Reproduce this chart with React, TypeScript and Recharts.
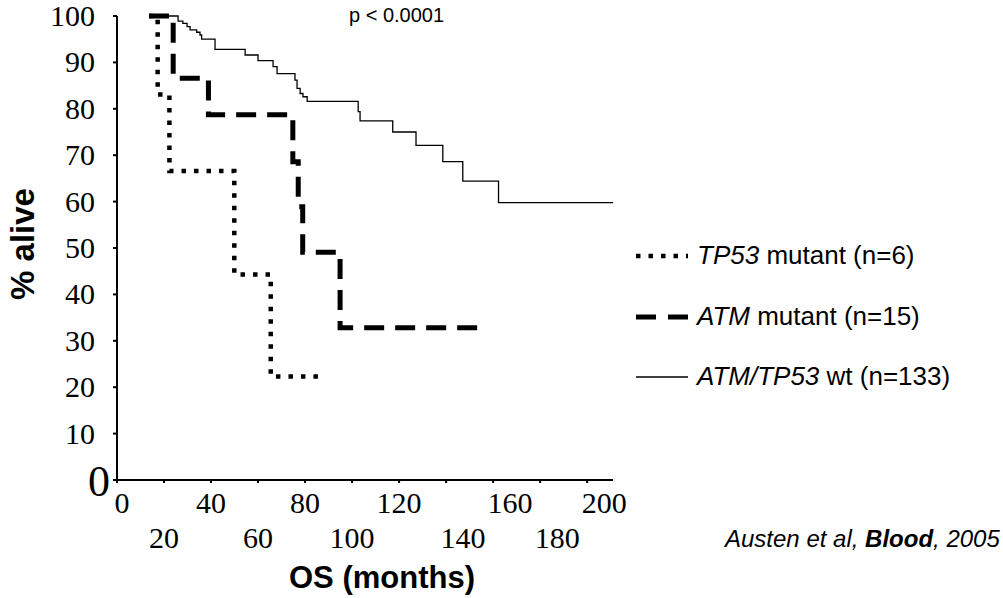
import { LineChart, Line, XAxis, YAxis } from "recharts";

// Kaplan-Meier steps (time in months, % alive)
const tp53Times = [13.6, 17.3, 22.3, 49.9, 65.4, 87.7];
const tp53Surv = [100, 83.1, 66.6, 44.3, 22.3, 22.3];

const atmTimes = [13.6, 23.9, 38.9, 74.8, 77.1, 79.0, 94.9, 155.3];
const atmSurv = [100, 86.6, 78.7, 68.6, 58.9, 49.1, 32.8, 32.8];

const wtTimes = [
  13.6, 26.0, 28.0, 29.8, 31.1, 33.9, 35.3, 36.0, 41.7, 54.5, 60.0, 66.4, 68.1,
  75.7, 76.6, 77.9, 79.1, 80.9, 102.6, 103.4, 117.3, 127.2, 138.6, 147.1, 162.3,
  211,
];
const wtSurv = [
  100, 98.9, 98.4, 97.7, 97.0, 96.5, 95.9, 95.0, 92.8, 91.6, 90.4, 89.1, 87.6,
  86.2, 84.4, 83.3, 82.6, 81.6, 79.4, 77.4, 75.0, 72.1, 68.6, 64.4, 59.8, 59.8,
];

const xTicks = [0, 20, 40, 60, 80, 100, 120, 140, 160, 180, 200];
const yTicks = [0, 10, 20, 30, 40, 50, 60, 70, 80, 90, 100];

const toRows = (times: number[], surv: number[]) =>
  times.map((t, i) => ({ t, s: surv[i] }));

const tp53Data = toRows(tp53Times, tp53Surv);
const atmData = toRows(atmTimes, atmSurv);
const wtData = toRows(wtTimes, wtSurv);

const SERIF = "'Liberation Serif', 'Times New Roman', serif";
const SANS = "'Liberation Sans', Arial, sans-serif";

// the pasted-in labels of the original drift right of their ticks past 120
const XTick = (props: any) => {
  const { x, y, payload, index } = props;
  const lower = index % 2 === 1;
  const nudge = payload.value >= 140 ? 17 : payload.value === 0 ? 5 : 0;
  return (
    <text
      x={x + nudge}
      y={y + (lower ? 63 : 28)}
      textAnchor="middle"
      fontFamily={SERIF}
      fontSize={30}
      fill="#000"
    >
      {payload.value}
    </text>
  );
};

const YTick = (props: any) => {
  const { x, y, payload } = props;
  if (payload.value === 0) {
    return (
      <text x={x + 15} y={y + 16} textAnchor="end" fontFamily={SERIF} fontSize={44} fill="#000">
        0
      </text>
    );
  }
  return (
    <text x={x} y={y} dy={10} textAnchor="end" fontFamily={SERIF} fontSize={30} fill="#000">
      {payload.value}
    </text>
  );
};

const legendText = { fontFamily: SANS, fontSize: 26, color: "#000", whiteSpace: "nowrap" as const };

function LegendRow({ top, dash, width, label, gene }: any) {
  return (
    <div style={{ position: "absolute", left: 634, top, display: "flex", alignItems: "center" }}>
      <svg width={56} height={10} style={{ marginRight: 7 }}>
        <line x1={2} y1={5} x2={54} y2={5} stroke="#000" strokeWidth={width} strokeDasharray={dash} />
      </svg>
      <span style={legendText}>
        <i>{gene}</i> {label}
      </span>
    </div>
  );
}

export default function App() {
  return (
    <div style={{ position: "absolute", left: 0, top: 0, width: 1003, height: 598, background: "#fff" }}>
      <LineChart width={1003} height={598} margin={{ top: 16, right: 390, bottom: 0, left: 0 }}>
        <XAxis
          type="number"
          dataKey="t"
          domain={[0, 211]}
          ticks={xTicks}
          interval={0}
          allowDataOverflow
          height={118}
          tickSize={3}
          tickMargin={2}
          stroke="#000"
          strokeWidth={2}
          tick={<XTick />}
          label={{
            value: "OS (months)",
            position: "insideBottom",
            offset: 10,
            dx: 17,
            style: { fontFamily: SANS, fontWeight: "bold", fontSize: 31, fill: "#000" },
          }}
        />
        <YAxis
          type="number"
          domain={[0, 100]}
          ticks={yTicks}
          interval={0}
          width={117}
          tickSize={4}
          tickMargin={18}
          stroke="#000"
          strokeWidth={2}
          tick={<YTick />}
          label={{
            value: "% alive",
            angle: -90,
            position: "insideLeft",
            offset: 22,
            dy: -4,
            style: { fontFamily: SANS, fontWeight: "bold", fontSize: 33, fill: "#000", textAnchor: "middle" },
          }}
        />
        <Line
          data={wtData}
          dataKey="s"
          type="stepAfter"
          stroke="#000"
          strokeWidth={1.3}
          dot={false}
          isAnimationActive={false}
        />
        <Line
          data={atmData}
          dataKey="s"
          type="stepAfter"
          stroke="#000"
          strokeWidth={5}
          strokeDasharray="20 11"
          dot={false}
          isAnimationActive={false}
        />
        <Line
          data={tp53Data}
          dataKey="s"
          type="stepAfter"
          stroke="#000"
          strokeWidth={4.5}
          strokeDasharray="4.5 8"
          dot={false}
          isAnimationActive={false}
        />
      </LineChart>

      <div style={{ position: "absolute", left: 349, top: 4, fontFamily: SANS, fontSize: 20 }}>p &lt; 0.0001</div>

      <LegendRow top={240} dash="4.5 8" width={4.5} gene="TP53" label="mutant (n=6)" />
      <LegendRow top={301} dash="20 12" width={5} gene="ATM" label="mutant (n=15)" />
      <LegendRow top={361} dash={undefined} width={1.3} gene="ATM/TP53" label="wt (n=133)" />

      <div style={{ position: "absolute", left: 725, top: 525, fontFamily: SANS, fontSize: 24, fontStyle: "italic", whiteSpace: "nowrap" }}>
        Austen et al, <b>Blood</b>, 2005
      </div>
    </div>
  );
}
